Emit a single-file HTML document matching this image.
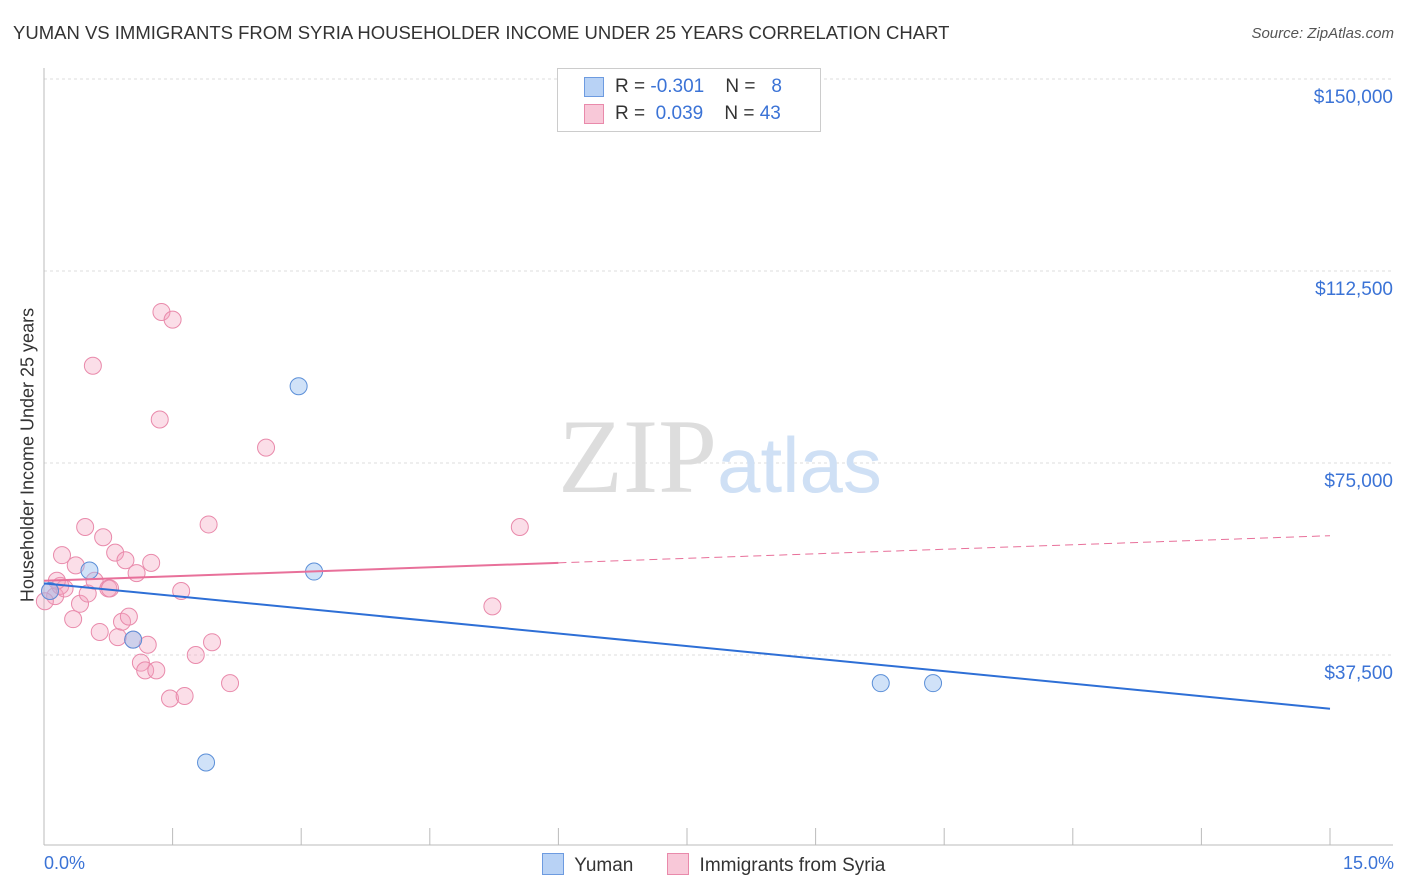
<!DOCTYPE html>
<html><head><meta charset="utf-8">
<style>
body{margin:0;background:#fff;font-family:"Liberation Sans",sans-serif;}
#wrap{position:relative;width:1406px;height:892px;overflow:hidden;}
.t{position:absolute;white-space:nowrap;}
</style></head><body>
<div id="wrap">
<div class="t" style="left:13px;top:22px;font-size:18.5px;color:#333;">YUMAN VS IMMIGRANTS FROM SYRIA HOUSEHOLDER INCOME UNDER 25 YEARS CORRELATION CHART</div>
<div class="t" style="right:12px;top:25px;font-size:15px;color:#555;font-style:italic;">Source: ZipAtlas.com</div>
<div class="t" style="left:28px;top:455px;font-size:18px;color:#333;transform:translate(-50%,-50%) rotate(-90deg);">Householder Income Under 25 years</div>
<svg id="svg" width="1406" height="892" style="position:absolute;left:0;top:0;"></svg>
</div>
<script>
const yTicks=[37500,75000,112500,150000];
const yTickLabels=["$37,500","$75,000","$112,500","$150,000"];
const yumanX=[0.53,2.97,3.15,1.04,1.89,9.76,10.37,0.07];
const yumanY=[54000,90000,53800,40500,16500,32000,32000,50000];
const syriaX=[0.07,0.13,0.19,0.01,0.21,0.37,0.48,0.57,0.42,0.34,0.51,0.59,0.65,0.69,0.75,0.77,0.83,0.86,0.91,0.95,0.99,1.08,1.13,1.18,1.21,1.25,1.31,1.35,1.37,1.47,1.50,1.60,1.64,1.77,1.92,1.96,2.17,2.59,5.23,5.55,1.04,0.24,0.15];
const syriaY=[50000,49000,51000,48000,57000,55000,62500,94000,47500,44500,49500,52000,42000,60500,50500,50500,57500,41000,44000,56000,45000,53500,36000,34500,39500,55500,34500,83500,104500,29000,103000,50000,29500,37500,63000,40000,32000,78000,47000,62500,40500,50500,52000];
const blueTrend=[0,51500,15,27000];
const pinkTrend=[0,52000,6,55500,15,60800];
const svg=document.getElementById('svg');
const NS='http://www.w3.org/2000/svg';
const X=v=>44+v*(1330-44)/15;
const Y=v=>847-v*192/37500;
function el(tag,attrs,name){const e=document.createElementNS(NS,tag);for(const k in attrs)e.setAttribute(k,attrs[k]);


svg.appendChild(e);return e;}
yTicks.forEach((t,i)=>{el('line',{x1:44,x2:1393,y1:Y(t),y2:Y(t),stroke:'#ddd','stroke-dasharray':'3,3'},'gridline');
const tx=el('text',{x:1393,y:Y(t)+24,'text-anchor':'end','font-size':19,fill:'#3b73d6','font-family':'Liberation Sans'},'y-tick-label');tx.textContent=yTickLabels[i];});
el('line',{x1:44,x2:44,y1:68,y2:845,stroke:'#bbb'},'y-axis');
el('line',{x1:44,x2:1393,y1:845,y2:845,stroke:'#bbb'},'x-axis');
for(let i=0;i<=10;i++)el('line',{x1:X(i*1.5),x2:X(i*1.5),y1:828,y2:845,stroke:'#bbb'},'x-tick');
const wm=el('text',{x:720,y:492,'text-anchor':'middle','font-size':106,fill:'#ddd','font-family':'Liberation Serif'},'watermark');
wm.innerHTML='ZIP<tspan fill="#cfe0f5" font-family="Liberation Sans" font-size="78">atlas</tspan>';
syriaX.forEach((x,i)=>el('circle',{cx:X(x),cy:Y(syriaY[i]),r:8.5,fill:'rgba(244,160,190,0.35)',stroke:'#e98aab','stroke-width':1},'syria-point'));
yumanX.forEach((x,i)=>el('circle',{cx:X(x),cy:Y(yumanY[i]),r:8.5,fill:'rgba(150,190,240,0.45)',stroke:'#5b8fd8','stroke-width':1},'yuman-point'));
el('line',{x1:X(blueTrend[0]),y1:Y(blueTrend[1]),x2:X(blueTrend[2]),y2:Y(blueTrend[3]),stroke:'#2e6fd6','stroke-width':2},'yuman-trendline');
el('line',{x1:X(pinkTrend[0]),y1:Y(pinkTrend[1]),x2:X(pinkTrend[2]),y2:Y(pinkTrend[3]),stroke:'#e8709a','stroke-width':2},'syria-trendline');
el('line',{x1:X(pinkTrend[2]),y1:Y(pinkTrend[3]),x2:X(pinkTrend[4]),y2:Y(pinkTrend[5]),stroke:'#e8709a','stroke-width':1,'stroke-dasharray':'8,5'},'syria-trendline-extension');
</script>
<div class="t" style="left:44px;top:853px;font-size:18px;color:#3b73d6;">0.0%</div>
<div class="t" style="right:12px;top:853px;font-size:18px;color:#3b73d6;">15.0%</div>
<div style="position:absolute;left:557px;top:68px;width:262px;height:62px;border:1px solid #ccc;background:#fff;font-size:19px;color:#333;">
<div style="position:absolute;left:26px;top:8px;width:18px;height:18px;background:#b8d2f5;border:1px solid #6d9be0;"></div>
<div class="t" style="left:57px;top:7px;">R = <span style="color:#3b73d6">-0.301</span>&nbsp;&nbsp;&nbsp; N = &nbsp;&nbsp;<span style="color:#3b73d6">8</span></div>
<div style="position:absolute;left:26px;top:35px;width:18px;height:18px;background:#f8c8d8;border:1px solid #e98aab;"></div>
<div class="t" style="left:57px;top:34px;">R = &nbsp;<span style="color:#3b73d6">0.039</span>&nbsp;&nbsp;&nbsp; N = <span style="color:#3b73d6">43</span></div>
</div>
<div style="position:absolute;left:542px;top:853px;font-size:19px;color:#333;">
<span style="display:inline-block;width:20px;height:20px;background:#b8d2f5;border:1px solid #6d9be0;vertical-align:-4px;"></span>&nbsp; Yuman</div>
<div style="position:absolute;left:667px;top:853px;font-size:19px;color:#333;">
<span style="display:inline-block;width:20px;height:20px;background:#f8c8d8;border:1px solid #e98aab;vertical-align:-4px;"></span>&nbsp; Immigrants from Syria</div>
</body></html>
